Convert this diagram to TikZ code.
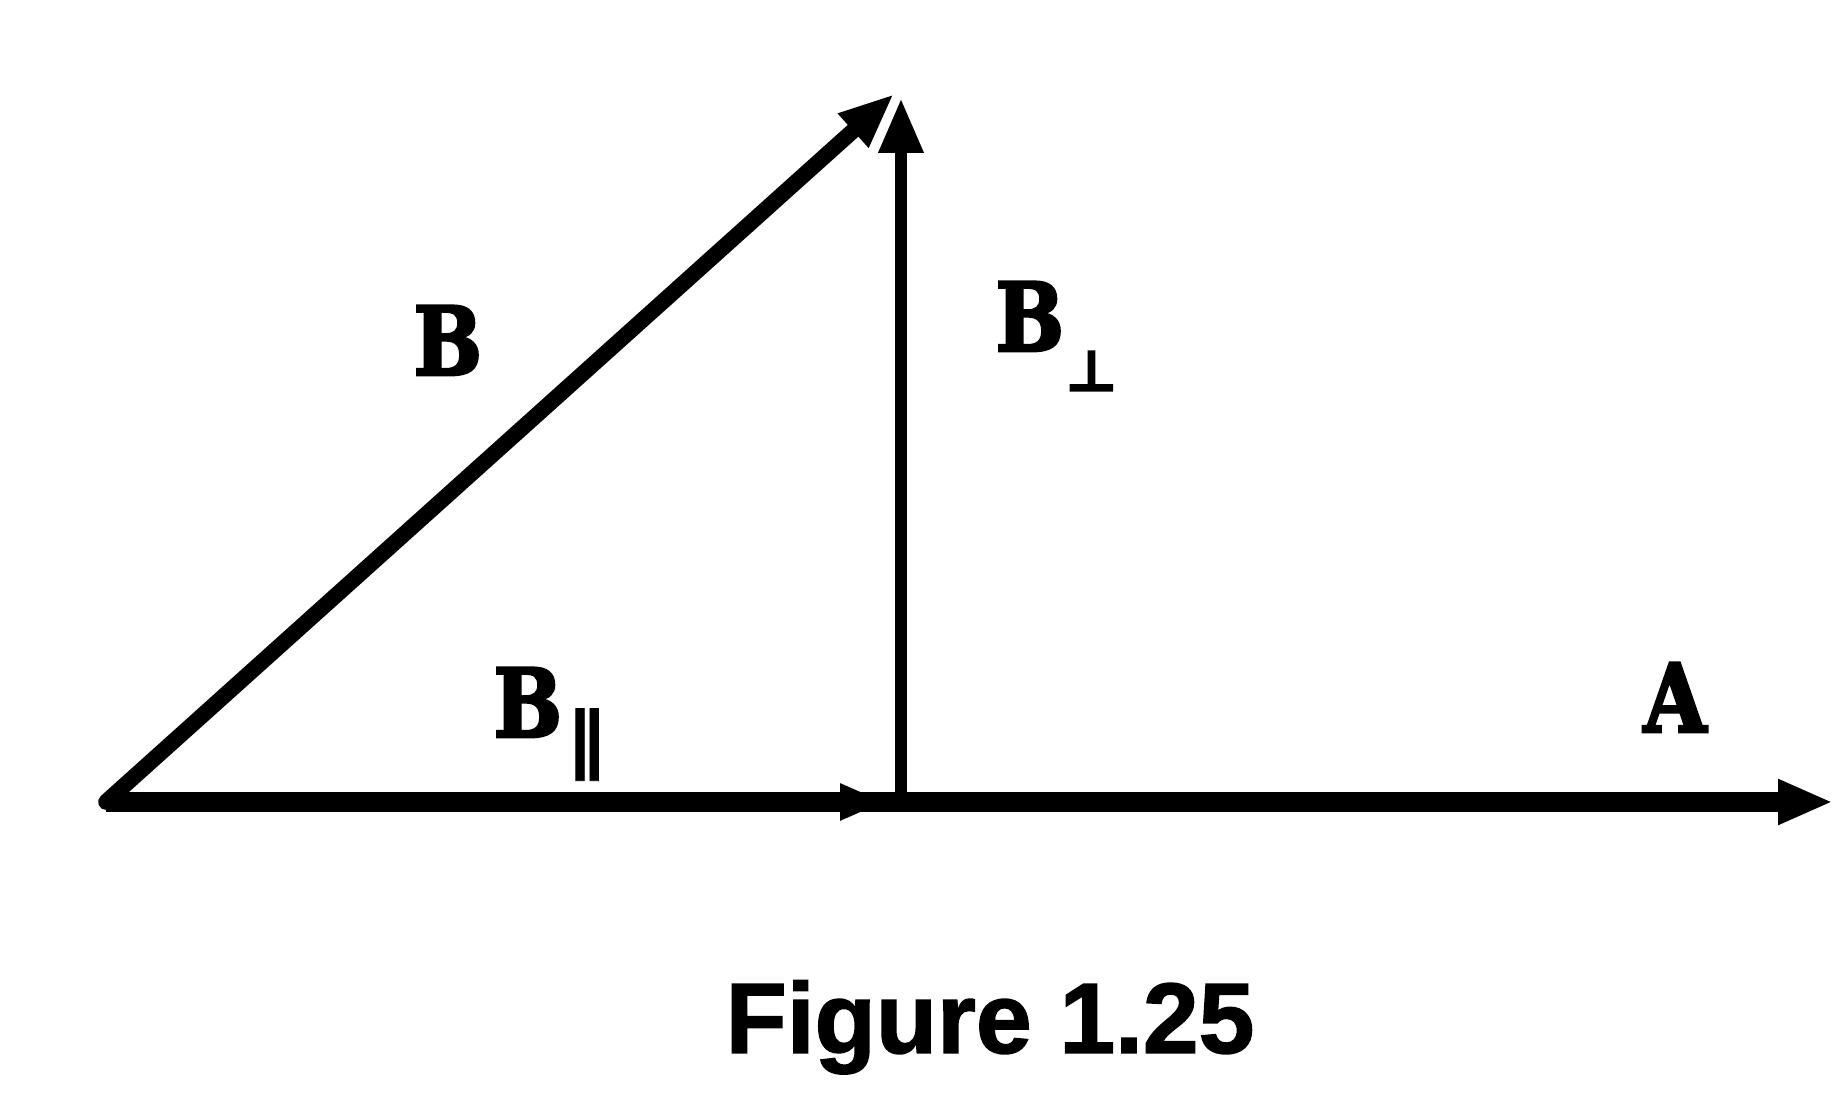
\documentclass[tikz,border=0pt]{standalone}
\usepackage{amsmath, amssymb}
\usepackage{fontspec}
\newfontfamily\lblfont{DejaVu Serif Bold}[FakeStretch=0.85, FakeBold=3]
\newfontfamily\capfont{Liberation Sans Bold}[FakeBold=1.5]
\newfontfamily\subfont{DejaVu Sans Bold}[FakeBold=3]
\newfontfamily\parfont{DejaVu Sans Bold}[FakeBold=1]
\usetikzlibrary{arrows.meta}

\begin{document}
\begin{tikzpicture}[>={Triangle[length=0.55cm,width=0.42cm]},
        vlabel/.style={font=\lblfont\fontsize{27}{34}\selectfont, inner sep=0pt}]
        \useasboundingbox (0,0) rectangle (18.46,10.97);
        \def\yb{2.95}
        \def\xp{9.01}
        \coordinate (o) at (1.06,\yb);
        \coordinate (p) at (\xp,\yb);
        \coordinate (q) at (8.85,\yb);
        \coordinate (t) at (\xp,9.99);
        \coordinate (b) at (8.94,10.03);
        \coordinate (a) at (18.33,\yb);
        \draw[line width=5.5pt,->] (o) -- (a);
        \draw[line width=5.5pt,->,>={Triangle[length=0.45cm,width=0.34cm]}] (o) -- (q);
        \draw[line width=4.5pt,line join=round,->] (p) -- (o) -- (b);
        \draw[line width=3.6pt,->] (p) -- (t);
        \node[vlabel,anchor=base west] (lblB) at (4.13,7.22) {B};
        \node[vlabel,anchor=base west] (lblperp) at (9.95,7.46) {B\kern0.02em\raisebox{-0.42em}{\subfont\fontsize{16}{16}\selectfont ⊥}};
        \node[vlabel,anchor=base west] (lblpar) at (4.93,3.60) {B\kern0.06em\raisebox{-0.3em}{\parfont\fontsize{21}{21}\selectfont ∥}};
        \node[vlabel,anchor=base west] (lblA) at (16.43,3.65) {A};
        \node[font=\capfont\fontsize{28.5}{32}\selectfont,anchor=base] (cap) at (9.9,0.44) {Figure 1.25};
\end{tikzpicture}
\end{document}
